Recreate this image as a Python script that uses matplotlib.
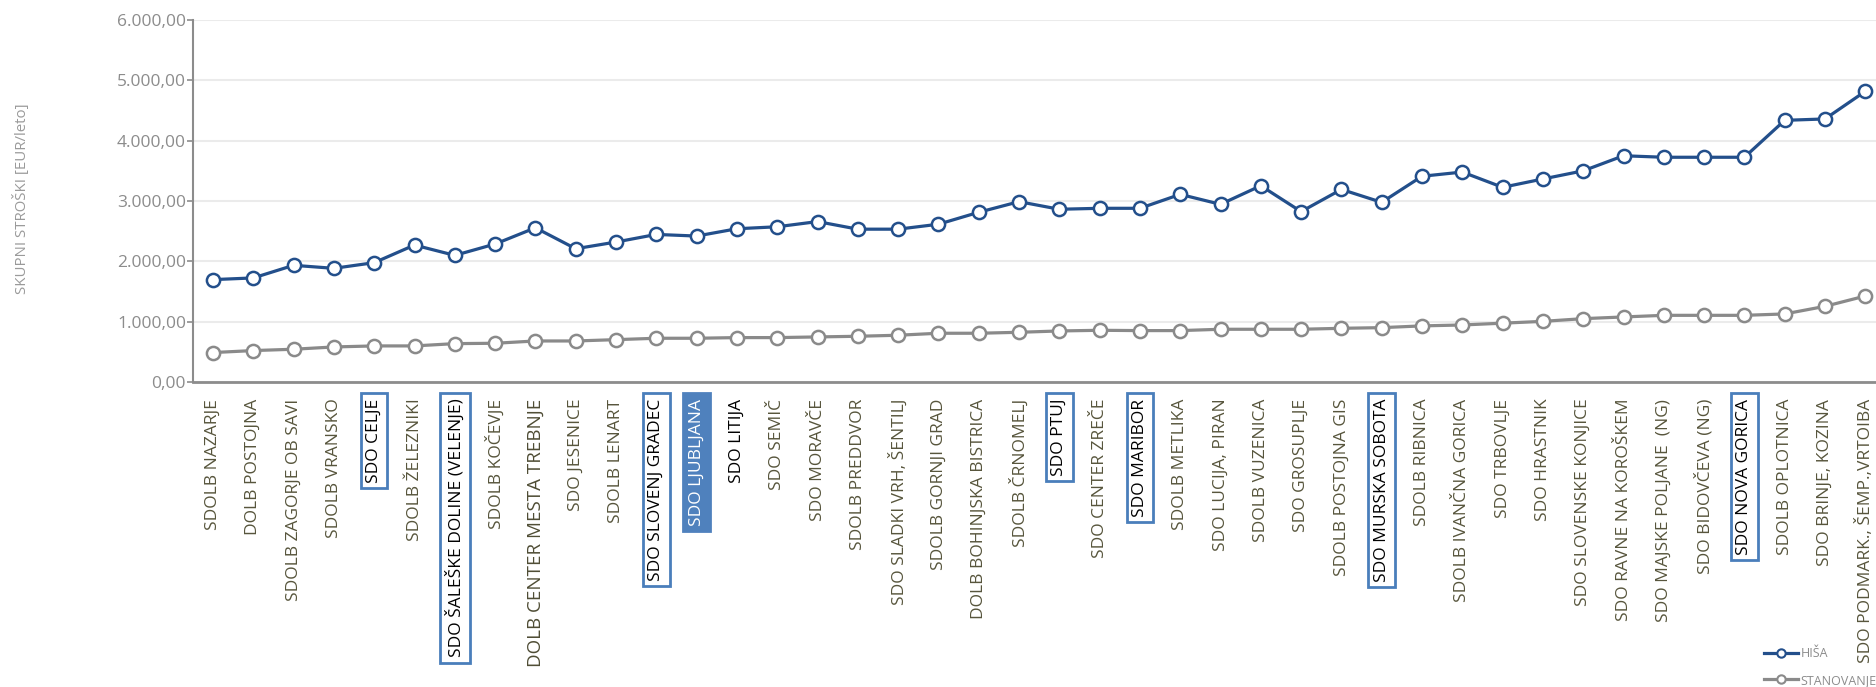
import matplotlib
matplotlib.use("Agg")
import matplotlib.pyplot as plt
from matplotlib.lines import Line2D
from matplotlib.ticker import FuncFormatter, MultipleLocator
from matplotlib import font_manager

categories = [
    "SDOLB NAZARJE", "DOLB POSTOJNA", "SDOLB ZAGORJE OB SAVI", "SDOLB VRANSKO",
    "SDO CELJE", "SDOLB ŽELEZNIKI", "SDO ŠALEŠKE DOLINE (VELENJE)", "SDOLB KOČEVJE",
    "DOLB CENTER MESTA TREBNJE", "SDO JESENICE", "SDOLB LENART", "SDO SLOVENJ GRADEC",
    "SDO LJUBLJANA", "SDO LITIJA", "SDO SEMIČ", "SDO MORAVČE", "SDOLB PREDDVOR",
    "SDO SLADKI VRH, ŠENTILJ", "SDOLB GORNJI GRAD", "DOLB BOHINJSKA BISTRICA",
    "SDOLB ČRNOMELJ", "SDO PTUJ", "SDO CENTER ZREČE", "SDO MARIBOR", "SDOLB METLIKA",
    "SDO LUCIJA, PIRAN", "SDOLB VUZENICA", "SDO GROSUPLJE", "SDOLB POSTOJNA GIS",
    "SDO MURSKA SOBOTA", "SDOLB RIBNICA", "SDOLB IVANČNA GORICA", "SDO TRBOVLJE",
    "SDO HRASTNIK", "SDO SLOVENSKE KONJICE", "SDO RAVNE NA KOROŠKEM",
    "SDO MAJSKE POLJANE  (NG)", "SDO BIDOVČEVA (NG)", "SDO NOVA GORICA",
    "SDOLB OPLOTNICA", "SDO BRINJE, KOZINA", "SDO PODMARK., ŠEMP.,VRTOIBA",
]

hisa = [
    1697, 1725, 1934, 1884, 1978, 2270, 2099, 2287, 2556, 2209, 2320, 2446,
    2419, 2540, 2573, 2659, 2533, 2533, 2615, 2813, 2989, 2863, 2879, 2879,
    3110, 2945, 3253, 2824, 3192, 2978, 3410, 3480, 3227, 3365, 3500, 3750,
    3725, 3725, 3725, 4337, 4360, 4818,
]

stanovanje = [
    488, 521, 543, 581, 598, 598, 636, 642, 680, 680, 702, 725,
    725, 736, 736, 747, 758, 775, 808, 808, 824, 846, 857, 852,
    852, 874, 874, 874, 890, 901, 930, 945, 975, 1005, 1050, 1078,
    1105, 1105, 1105, 1128, 1254, 1425,
]

boxed = {"SDO CELJE", "SDO ŠALEŠKE DOLINE (VELENJE)", "SDO SLOVENJ GRADEC",
         "SDO PTUJ", "SDO MARIBOR", "SDO MURSKA SOBOTA", "SDO NOVA GORICA"}
filled = {"SDO LJUBLJANA"}
black_plain = {"SDO LITIJA"}
narrow = {"DOLB CENTER MESTA TREBNJE"}

plt.rcParams['font.family'] = ['Open Sans', 'DejaVu Sans']

available = {f.name for f in font_manager.fontManager.ttflist}
narrow_family = 'Liberation Sans Narrow' if 'Liberation Sans Narrow' in available else 'Open Sans'

W, H = 1876, 687
fig = plt.figure(figsize=(W / 100, H / 100), dpi=100)
ax = fig.add_axes([193 / W, 1 - 382 / H, (W - 193) / W, (382 - 20) / H])

blue = '#234f8b'
grey = '#8a8a8a'
x = list(range(len(categories)))

ax.plot(x, hisa, color=blue, lw=2.3, marker='o', ms=9.5, mfc='white',
        mec=blue, mew=1.8, zorder=3, clip_on=False)
ax.plot(x, stanovanje, color=grey, lw=2.3, marker='o', ms=9.5, mfc='white',
        mec=grey, mew=1.8, zorder=3, clip_on=False)

ax.set_ylim(0, 6000)
ax.set_xlim(-20 / 40.3, (W - 213) / 40.3)
ax.yaxis.set_major_locator(MultipleLocator(1000))


def fmt(v, pos):
    s = f"{v:,.2f}"
    return s.replace(",", "X").replace(".", ",").replace("X", ".")


ax.yaxis.set_major_formatter(FuncFormatter(fmt))
ax.grid(axis='y', color='#ebebeb', lw=1.5, zorder=0)
ax.set_axisbelow(True)

for s in ['top', 'right']:
    ax.spines[s].set_visible(False)
ax.spines['left'].set_color('#8c8c8c')
ax.spines['left'].set_linewidth(1.5)
ax.spines['bottom'].set_color('#8c8c8c')
ax.spines['bottom'].set_linewidth(2)

ax.tick_params(axis='y', colors='#8c8c8c', labelcolor='#8c8c8c', length=4,
               width=1.2, pad=1, labelsize=12.5)
ax.tick_params(axis='x', length=0, pad=12, labelsize=12.5)

ax.set_xticks(x)
ax.set_xticklabels(categories, rotation=90, va='top', ha='center')
for lab in ax.get_xticklabels():
    t = lab.get_text()
    if t in boxed:
        lab.set_color('black')
        lab.set_bbox(dict(boxstyle='square,pad=0.3', fc='white', ec='#4a7ebb', lw=2))
    elif t in filled:
        lab.set_color('white')
        lab.set_bbox(dict(boxstyle='square,pad=0.3', fc='#4f81bd', ec='#4f81bd', lw=2))
    elif t in black_plain:
        lab.set_color('black')
    elif t in narrow:
        lab.set_color('#4f4d35')
        lab.set_family(narrow_family)
        lab.set_fontsize(15 if narrow_family != 'Open Sans' else 13.5)
    else:
        lab.set_color('#57553c')

fig.text(21.5 / W, 1 - 199 / H, "SKUPNI STROŠKI [EUR/leto]", rotation=90,
         ha='center', va='center', color='#9a9a9a', fontsize=10.8)

handles = [
    Line2D([], [], color=blue, lw=2.3, marker='o', ms=6, mfc='white', mec=blue, mew=1.5),
    Line2D([], [], color=grey, lw=2.3, marker='o', ms=6, mfc='white', mec=grey, mew=1.5),
]
fig.legend(handles, ["HIŠA", "STANOVANJE"], loc='upper left',
           bbox_to_anchor=(1764 / W, 1 - 647 / H), frameon=False,
           borderpad=0, borderaxespad=0, handlelength=2.7, handletextpad=0.2,
           labelspacing=1.1, fontsize=9, labelcolor='#8c8c8c')

fig.savefig("out.png", dpi=100)
